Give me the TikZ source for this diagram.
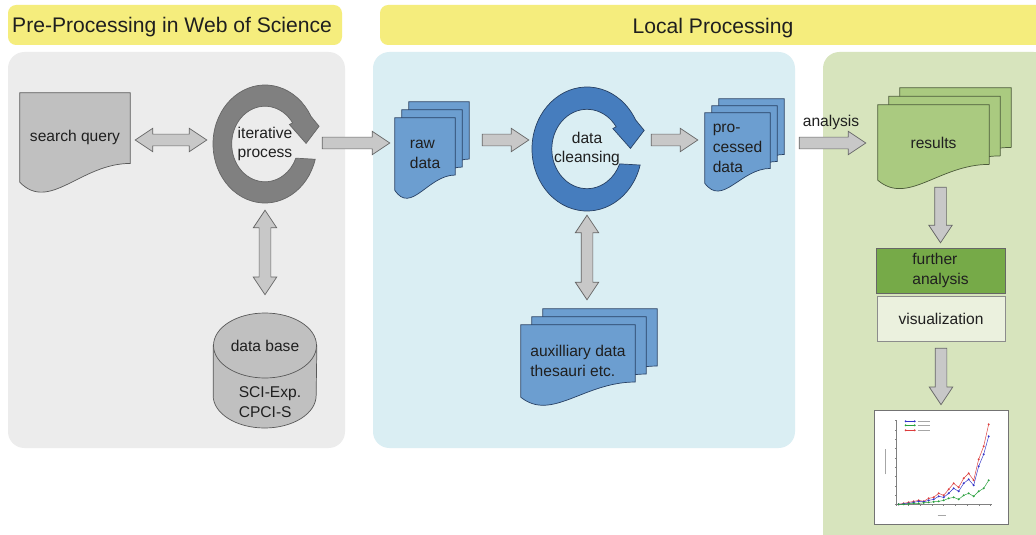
\documentclass[tikz,border=0pt]{standalone}
\usepackage{fontspec}
\setmainfont{Liberation Sans}
\usetikzlibrary{calc,shapes.geometric}

\definecolor{titleyellow}{RGB}{245,237,125}
\definecolor{panelgray}{RGB}{236,236,236}
\definecolor{panelblue}{RGB}{218,238,243}
\definecolor{panelgreen}{RGB}{215,228,189}
\definecolor{docgray}{RGB}{192,192,192}
\definecolor{ringgray}{RGB}{128,128,128}
\definecolor{arrowgray}{RGB}{200,200,200}
\definecolor{docblue}{RGB}{108,158,208}
\definecolor{ringblue}{RGB}{70,125,190}
\definecolor{linkblue}{RGB}{40,65,100}
\definecolor{docgreen}{RGB}{170,202,128}
\definecolor{boxgreen}{RGB}{118,170,72}
\definecolor{boxpale}{RGB}{235,241,222}
\definecolor{chartblue}{RGB}{50,50,200}
\definecolor{chartgreen}{RGB}{40,160,60}
\definecolor{chartred}{RGB}{220,60,60}

\pgfdeclarelayer{panel}
\pgfdeclarelayer{shape}
\pgfsetlayers{panel,shape,main}

\tikzset{
  lbl/.style={font=\fontsize{13.3}{17}\selectfont, text=black!88, inner sep=0pt},
  title/.style={font=\fontsize{18}{20}\selectfont, text=black!88, inner sep=0pt},
  graydoc/.style={draw=black!65, fill=docgray, line width=0.6pt},
  bluedoc/.style={draw=linkblue, fill=docblue, line width=0.6pt},
  greendoc/.style={draw=black!55!docgreen, fill=docgreen, line width=0.6pt},
  fatarrow/.style={draw=black!60, fill=arrowgray, line width=0.6pt},
  chartline/.style={line width=0.4pt, mark=*, mark size=0.6pt}
}

% document sheet with a wavy foot, drawn round a node (optional offset)
\newcommand\docshape[3][(0,0)]{%
  \draw[#3] let \p1=($(#2.north west)+#1$), \p2=($(#2.south east)+#1$), \n1={\x2-\x1}, \n2={\y1-\y2} in
    (\x1,\y1) -- (\x2,\y1) -- (\x2,{\y2+0.21*\n2})
    .. controls ({\x2-0.45*\n1},{\y2+0.21*\n2}) and ({\x1+0.27*\n1},{\y2-0.34*\n2}) .. (\x1,\y2) -- cycle;}

% ring with a head, round a node
\newcommand\cycring[4]{%
  \draw[#4, shift={(#1.center)}] (-15:{#2} and {#3})
    arc[start angle=-15, end angle=-332, x radius=#2, y radius=#3]
    -- ({1.04*#2},{0.30*#3}) -- ({0.79*#2},{0.01*#3}) -- ({0.47*#2},{0.33*#3})
    -- (34:{0.64*#2} and {0.64*#3})
    arc[start angle=34, end angle=338, x radius={0.64*#2}, y radius={0.64*#3}] -- cycle;}

% block arrows
\newcommand\fatgeom[2]{%
  \path let \p1=#1, \p2=#2, \n1={veclen(\x2-\x1,\y2-\y1)}, \n2={atan2(\y2-\y1,\x2-\x1)} in
    \pgfextra{\xdef\fatlen{\n1}\xdef\fatang{\n2}\xdef\fatx{\x1}\xdef\faty{\y1}};}
\newcommand\onearrow[2]{\fatgeom{#1}{#2}%
  \draw[fatarrow, shift={(\fatx,\faty)}, rotate=\fatang]
    (0pt,-5pt) -- ({\fatlen*1pt-15pt},-5pt) -- ({\fatlen*1pt-15pt},-10pt) -- ({\fatlen*1pt},0pt)
    -- ({\fatlen*1pt-15pt},10pt) -- ({\fatlen*1pt-15pt},5pt) -- (0pt,5pt) -- cycle;}
\newcommand\twoarrow[2]{\fatgeom{#1}{#2}%
  \draw[fatarrow, shift={(\fatx,\faty)}, rotate=\fatang]
    (0pt,0pt) -- (15pt,10pt) -- (15pt,5pt) -- ({\fatlen*1pt-15pt},5pt) -- ({\fatlen*1pt-15pt},10pt)
    -- ({\fatlen*1pt},0pt) -- ({\fatlen*1pt-15pt},-10pt) -- ({\fatlen*1pt-15pt},-5pt)
    -- (15pt,-5pt) -- (15pt,-10pt) -- cycle;}

\begin{document}
\begin{tikzpicture}[x=0.03cm, y=0.03cm]
  \useasboundingbox (0,0) rectangle (1036,-535);

  % Nodes
  \node[title, anchor=west] (pretitle) at (12,-27) {Pre-Processing in Web of Science};
  \node[title] (loctitle) at (713,-28) {Local Processing};

  \node[lbl, minimum width=3.3cm, minimum height=2.67cm] (query) at (75,-137.5) {search query};
  \node[lbl, ellipse, align=center, minimum width=3.12cm, minimum height=3.54cm] (iter) at (265,-144) {iterative\\process};
  \node[lbl, ellipse, draw=black!65, fill=docgray, line width=0.6pt, minimum width=3.09cm, minimum height=1.95cm] (db) at (265,-345.5) {data base};
  \node[lbl, align=left] (dbtxt) at (270,-402) {SCI-Exp.\\CPCI-S};

  \node[lbl, align=left, minimum width=1.8cm, minimum height=2.16cm] (raw) at (425,-154) {raw\\data};
  \node[lbl, ellipse, align=center, minimum width=3.3cm, minimum height=3.72cm] (clean) at (587,-149) {data\\cleansing};
  \node[lbl, align=left, minimum width=1.95cm, minimum height=2.1cm] (proc) at (737.5,-148) {pro-\\cessed\\data};
  \node[lbl, align=left, minimum width=3.42cm, minimum height=2.16cm] (aux) at (578,-361) {auxilliary data\\thesauri etc.};

  \node[lbl, minimum width=3.33cm, minimum height=2.25cm] (res) at (933.5,-142.5) {results};
  \node[lbl, align=left, draw=black!60, fill=boxgreen, minimum width=3.87cm, minimum height=1.35cm] (further) at (940.5,-270.5) {further\\analysis};
  \node[lbl, draw=black!45, fill=boxpale, minimum width=3.84cm, minimum height=1.35cm] (vis) at (941,-318.5) {visualization};
  \node[draw=black!55, fill=white, line width=0.6pt, minimum width=4.02cm, minimum height=3.42cm] (chart) at (941,-467) {};

  % Panels
  \begin{pgfonlayer}{panel}
    \fill[white] (0,0) rectangle (1036,-535);
    \fill[titleyellow, rounded corners=7pt] (8,-5) rectangle (342,-45);
    \fill[titleyellow, rounded corners=7pt] (380,-5) rectangle (1050,-45);
    \fill[panelgray, rounded corners=14pt] (8,-52) rectangle (345,-448);
    \fill[panelblue, rounded corners=14pt] (373,-52) rectangle (795,-448);
    \fill[panelgreen, rounded corners=14pt] (823,-52) rectangle (1050,-550);
  \end{pgfonlayer}

  % Shapes
  \begin{pgfonlayer}{shape}
    \docshape{query}{graydoc}
    \cycring{iter}{52}{59}{draw=black!60, fill=ringgray, line width=0.6pt}
    \draw[graydoc] (db.west) -- ++(0,-50) arc[start angle=180, end angle=360, x radius=51.5, y radius=32.5] -- (db.east) -- cycle;
    \foreach \k in {2,1}{
      \docshape[(\k*7,\k*8)]{raw}{bluedoc}
      \docshape[(\k*7,\k*7)]{proc}{bluedoc}
      \docshape[(\k*11,\k*8)]{aux}{bluedoc}
      \docshape[(\k*11,\k*8.5)]{res}{greendoc}
    }
    \docshape{raw}{bluedoc}
    \docshape{proc}{bluedoc}
    \docshape{aux}{bluedoc}
    \docshape{res}{greendoc}
    \cycring{clean}{55}{62}{draw=linkblue, fill=ringblue, line width=0.6pt}
  \end{pgfonlayer}

  % Edges
  \twoarrow{($(query.east)+(5,-2.5)$)}{($(iter.west)+(-6,4)$)}
  \onearrow{($(iter.east)+(5,1)$)}{($(raw.west)+(-5,11)$)}
  \twoarrow{($(iter.south)+(0,-7)$)}{($(db.north)+(0,18)$)}
  \onearrow{($(raw.east)+(27,14)$)}{($(clean.west)+(-3,9)$)}
  \onearrow{($(clean.east)+(9,9)$)}{($(proc.west)+(-7,8)$)}
  \twoarrow{($(clean.south)+(0,-4)$)}{($(clean.south |- aux.north)+(0,25)$)}
  \onearrow{($(proc.east)+(29,5)$)}{($(res.west)+(-12,-0.5)$)}
  \node[lbl] (anl) at (831,-122) {analysis};
  \onearrow{($(further.north |- res.south)+(0,-7)$)}{($(further.north)+(0,5)$)}
  \onearrow{($(vis.south)+(0,-7)$)}{($(chart.north)+(0,5)$)}

  % Chart
  \begin{scope}[shift={(chart.south west)}]
    \draw[black!50, line width=0.3pt] (23,104) -- (23,20) -- (118,20);
    \foreach \t in {0,...,8} \draw[black!50, line width=0.3pt] (23+\t*11.75,20) -- ++(0,-1.5);
    \foreach \t in {0,...,9} \draw[black!50, line width=0.3pt] (23,20+\t*9.3) -- ++(-1.5,0);
    \draw[chartred, chartline] plot coordinates {(25,20) (30,21) (35,22) (40,23) (45,24) (50,23) (55,26) (60,27) (65,31) (70,29) (75,35) (80,41) (85,37) (90,46) (95,51) (100,44) (105,65) (110,78) (115,100)};
    \draw[chartblue, chartline] plot coordinates {(25,20) (30,20.5) (35,21) (40,22) (45,23) (50,22.5) (55,24) (60,25) (65,28) (70,27) (75,31) (80,36) (85,33) (90,41) (95,45) (100,39) (105,58) (110,70) (115,88)};
    \draw[chartgreen, chartline] plot coordinates {(25,20) (30,20) (35,20.5) (40,21) (45,21) (50,21.5) (55,22) (60,22.5) (65,23) (70,24) (75,26) (80,27) (85,25) (90,29) (95,31) (100,28) (105,33) (110,36) (115,44)};
    \foreach \c/\h in {chartblue/103, chartgreen/99, chartred/94}{
      \draw[\c, chartline] plot coordinates {(32,\h) (41,\h)};
      \draw[black!35, line width=0.5pt] (44,\h) -- (56,\h);
    }
    \draw[black!35, line width=0.5pt] (12,50) -- (12,75);
    \draw[black!35, line width=0.5pt] (64,9) -- (72,9);
  \end{scope}
\end{tikzpicture}
\end{document}
